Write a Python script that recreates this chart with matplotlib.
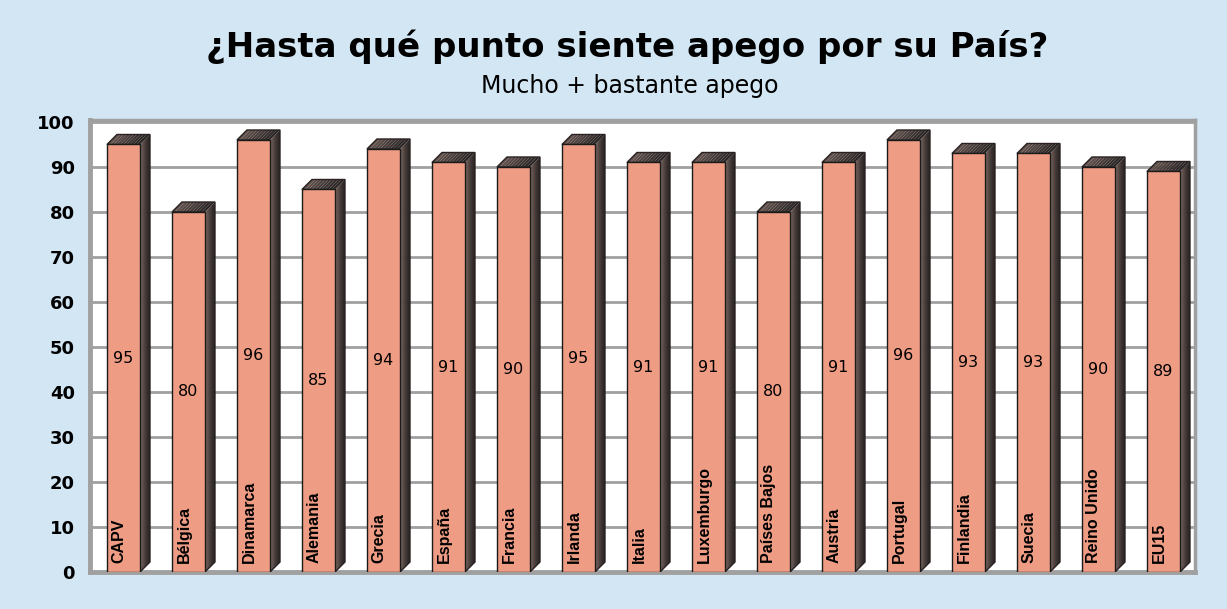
import matplotlib.pyplot as plt
from matplotlib.patches import Polygon
import numpy as np

countries = ['CAPV', 'Bélgica', 'Dinamarca', 'Alemania', 'Grecia', 'España', 'Francia',
             'Irlanda', 'Italia', 'Luxemburgo', 'Países Bajos', 'Austria', 'Portugal',
             'Finlandia', 'Suecia', 'Reino Unido', 'EU15']
values = [95, 80, 96, 85, 94, 91, 90, 95, 91, 91, 80, 91, 96, 93, 93, 90, 89]

title = '¿Hasta qué punto siente apego por su País?'
subtitle = 'Mucho + bastante apego'

bg = '#D2E6F4'
bar_color = '#EE9C84'
grid_color = '#A0A0A0'

fig = plt.figure(figsize=(12.27, 6.09), dpi=100, facecolor=bg)
ax = fig.add_axes([90 / 1227, 37 / 609, 1105 / 1227, 452 / 609])
ax.set_facecolor('white')

x = np.arange(len(values))
width = 0.508
dx = 0.154   # depth of the 3d effect (x units)
dy = 2.22    # depth of the 3d effect (y units)

ax.set_xlim(-0.515, 16.485)
ax.set_ylim(0, 100.44)

ax.set_yticks(np.arange(0, 101, 10))
ax.yaxis.grid(True, color=grid_color, linewidth=2)
ax.set_axisbelow(True)
ax.set_xticks([])
ax.tick_params(axis='y', length=0, pad=11)
for lab in ax.get_yticklabels():
    lab.set_fontweight('bold')
    lab.set_fontsize(13)

for side in ['left', 'bottom']:
    ax.spines[side].set_color(grid_color)
    ax.spines[side].set_linewidth(3.5)
for side in ['top', 'right']:
    ax.spines[side].set_color(grid_color)
    ax.spines[side].set_linewidth(2.5)

c_light = np.array([0.55, 0.45, 0.42])
c_dark = np.array([0.13, 0.12, 0.12])
n_strips = 10

for xi, v, name in zip(x, values, countries):
    left = xi - width / 2
    right = xi + width / 2
    # side face, drawn in strips for a shading gradient
    for k in range(n_strips):
        t0 = k / n_strips
        t1 = (k + 1) / n_strips
        col = c_light + (c_dark - c_light) * (t0 ** 0.6)
        poly = [(right + dx * t0, dy * t0), (right + dx * t1, dy * t1),
                (right + dx * t1, v + dy * t1), (right + dx * t0, v + dy * t0)]
        ax.add_patch(Polygon(poly, closed=True, facecolor=col, edgecolor='none', zorder=3))
    # top face
    for k in range(n_strips):
        t0 = k / n_strips
        t1 = (k + 1) / n_strips
        col = c_light * 0.9 + (c_dark - c_light * 0.9) * (0.3 + 0.7 * t0)
        poly = [(left + (right - left) * t0, v), (left + (right - left) * t1, v),
                (left + (right - left) * t1 + dx, v + dy), (left + (right - left) * t0 + dx, v + dy)]
        ax.add_patch(Polygon(poly, closed=True, facecolor=col, edgecolor='none', zorder=3))
    outline = [(left, v), (left + dx, v + dy), (right + dx, v + dy), (right + dx, dy),
               (right, 0), (right, v)]
    ax.add_patch(Polygon(outline, closed=True, facecolor='none', edgecolor='#2a2222',
                         linewidth=1, zorder=4))
    ax.bar(xi, v, width=width, color=bar_color, edgecolor='#1a1a1a', linewidth=1, zorder=5)
    ax.text(xi, v / 2, str(v), ha='center', va='center', fontsize=11.5, zorder=6)
    ax.text(xi - 0.07, 2, name, rotation=90, ha='center', va='bottom', fontsize=11.5,
            fontweight='bold', family=['Liberation Sans', 'DejaVu Sans'], zorder=6)

fig.text(0.511, 0.924, title, ha='center', va='center', fontsize=24.5, fontweight='bold')
fig.text(0.513, 0.859, subtitle, ha='center', va='center', fontsize=17)

fig.savefig('out.png', dpi=100, facecolor=bg)
